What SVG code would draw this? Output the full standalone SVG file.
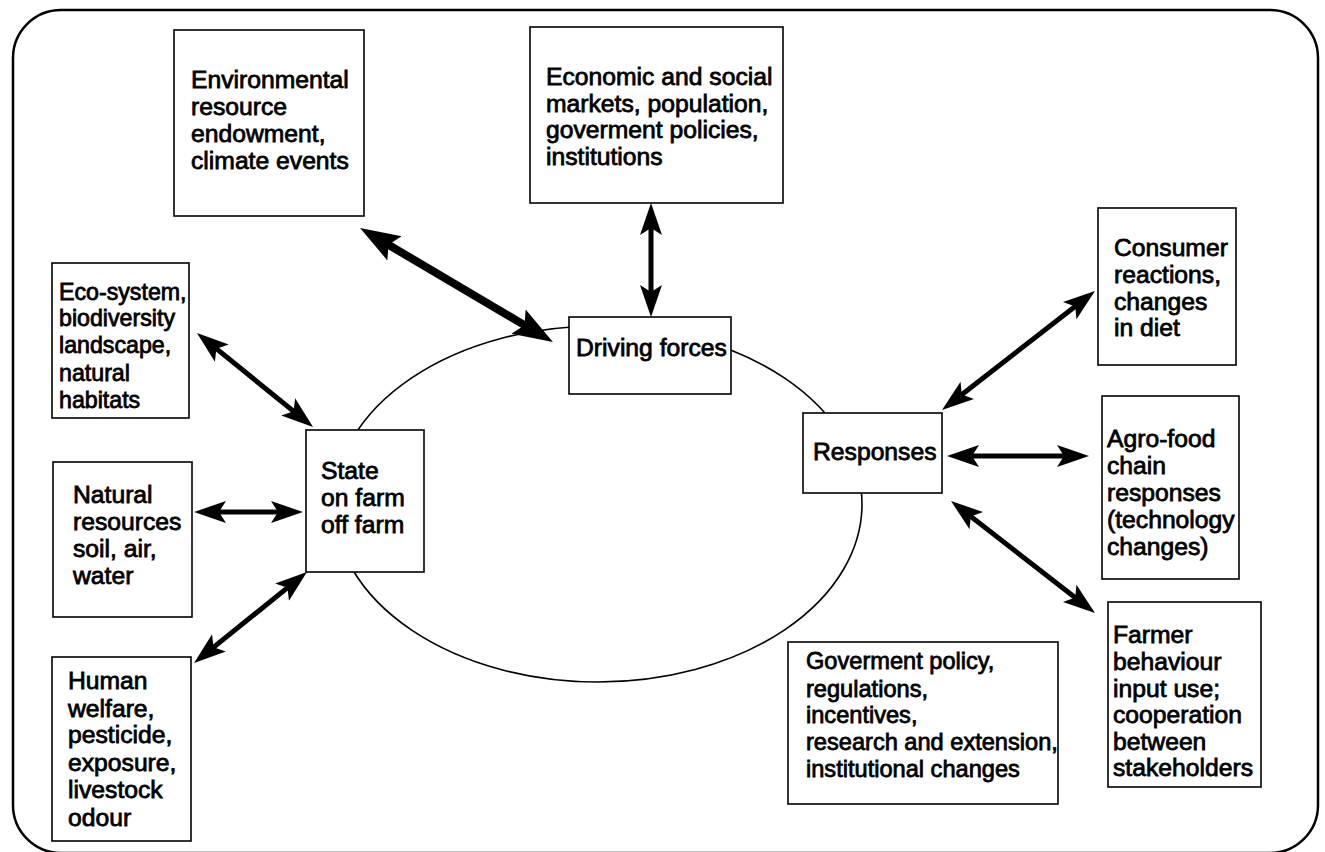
<svg xmlns="http://www.w3.org/2000/svg" width="1325" height="852" viewBox="0 0 1325 852">
<style>
.box{fill:#fff;stroke:#000;stroke-width:1.6}
.t{font-family:"Liberation Sans",Arial,sans-serif;font-size:24.7px;fill:#000;stroke:#000;stroke-width:0.8}
.s{font-size:23.2px}
.m{font-size:23.6px}
.arr{stroke:#000;stroke-width:5;fill:none;marker-start:url(#ah);marker-end:url(#ah)}
.arrT{stroke:#000;stroke-width:8;fill:none;marker-start:url(#ahT);marker-end:url(#ahT)}
</style>
<defs>
<marker id="ah" markerUnits="userSpaceOnUse" viewBox="0 -12 34 24" markerWidth="34" markerHeight="24" refX="21" refY="0" orient="auto-start-reverse">
<path d="M0,-11 L32,0 L0,11 L7,0 z" fill="#000"/>
</marker>
<marker id="ahT" markerUnits="userSpaceOnUse" viewBox="0 -15 42 30" markerWidth="42" markerHeight="30" refX="26" refY="0" orient="auto-start-reverse">
<path d="M0,-14 L40,0 L0,14 L7,0 z" fill="#000"/>
</marker>
</defs>
<rect x="0" y="0" width="1325" height="852" fill="#fff"/>
<rect id="frame" x="13" y="10" width="1305" height="843" rx="48" ry="48" fill="none" stroke="#000" stroke-width="2.5"/>
<ellipse id="cycle" cx="598" cy="504" rx="264" ry="178" fill="none" stroke="#000" stroke-width="1.6"/>
<g id="connectors">
<line class="arrT" x1="372.1" y1="235.1" x2="540.9" y2="334.9"/>
<line class="arr" x1="651" y1="214" x2="651" y2="306"/>
<line class="arr" x1="205.5" y1="339.9" x2="304.5" y2="420.1"/>
<line class="arr" x1="205" y1="512" x2="292" y2="512"/>
<line class="arr" x1="202.6" y1="656.1" x2="298.4" y2="578.9"/>
<line class="arr" x1="950.7" y1="403.2" x2="1086.3" y2="297.8"/>
<line class="arr" x1="958" y1="456" x2="1078" y2="456"/>
<line class="arr" x1="959.7" y1="507.8" x2="1086.3" y2="606.2"/>
</g>
<g id="env">
<rect class="box" x="174" y="30" width="190" height="186"/>
<text class="t"><tspan x="191" y="88">Environmental</tspan><tspan x="191" y="115">resource</tspan><tspan x="191" y="142">endowment,</tspan><tspan x="191" y="169">climate events</tspan></text>
</g>
<g id="econ">
<rect class="box" x="530" y="27" width="253" height="176"/>
<text class="t"><tspan x="546" y="85">Economic and social</tspan><tspan x="546" y="112">markets, population,</tspan><tspan x="546" y="138">goverment policies,</tspan><tspan x="546" y="165">institutions</tspan></text>
</g>
<g id="eco">
<rect class="box" x="52" y="263" width="137" height="155"/>
<text class="t s"><tspan x="59" y="300">Eco-system,</tspan><tspan x="59" y="326">biodiversity</tspan><tspan x="59" y="353">landscape,</tspan><tspan x="59" y="381">natural</tspan><tspan x="59" y="408">habitats</tspan></text>
</g>
<g id="natural">
<rect class="box" x="53" y="462" width="139" height="155"/>
<text class="t"><tspan x="73" y="503">Natural</tspan><tspan x="73" y="530">resources</tspan><tspan x="73" y="557">soil, air,</tspan><tspan x="73" y="584">water</tspan></text>
</g>
<g id="human">
<rect class="box" x="52" y="657" width="139" height="184"/>
<text class="t"><tspan x="68" y="689">Human</tspan><tspan x="68" y="717">welfare,</tspan><tspan x="68" y="743">pesticide,</tspan><tspan x="68" y="771">exposure,</tspan><tspan x="68" y="798">livestock</tspan><tspan x="68" y="826">odour</tspan></text>
</g>
<g id="state">
<rect class="box" x="306" y="430" width="118" height="142"/>
<text class="t"><tspan x="321" y="479">State</tspan><tspan x="321" y="506">on farm</tspan><tspan x="321" y="533">off farm</tspan></text>
</g>
<g id="driving">
<rect class="box" x="569" y="317" width="162" height="77"/>
<text class="t" x="576" y="356">Driving forces</text>
</g>
<g id="responses">
<rect class="box" x="803" y="413" width="139" height="80"/>
<text class="t" x="813" y="460">Responses</text>
</g>
<g id="consumer">
<rect class="box" x="1098" y="208" width="138" height="157"/>
<text class="t"><tspan x="1114" y="256">Consumer</tspan><tspan x="1114" y="283">reactions,</tspan><tspan x="1114" y="310">changes</tspan><tspan x="1114" y="336">in diet</tspan></text>
</g>
<g id="agro">
<rect class="box" x="1102" y="396" width="137" height="183"/>
<text class="t"><tspan x="1107" y="447">Agro-food</tspan><tspan x="1107" y="474">chain</tspan><tspan x="1107" y="501">responses</tspan><tspan x="1107" y="528">(technology</tspan><tspan x="1107" y="555">changes)</tspan></text>
</g>
<g id="farmer">
<rect class="box" x="1108" y="602" width="153" height="185"/>
<text class="t"><tspan x="1113" y="643">Farmer</tspan><tspan x="1113" y="670">behaviour</tspan><tspan x="1113" y="697">input use;</tspan><tspan x="1113" y="723">cooperation</tspan><tspan x="1113" y="750">between</tspan><tspan x="1113" y="776">stakeholders</tspan></text>
</g>
<g id="gov">
<rect class="box" x="788" y="642" width="270" height="162"/>
<text class="t m"><tspan x="806" y="669">Goverment policy,</tspan><tspan x="806" y="697">regulations,</tspan><tspan x="806" y="723">incentives,</tspan><tspan x="806" y="750">research and extension,</tspan><tspan x="806" y="777">institutional changes</tspan></text>
</g>
</svg>
